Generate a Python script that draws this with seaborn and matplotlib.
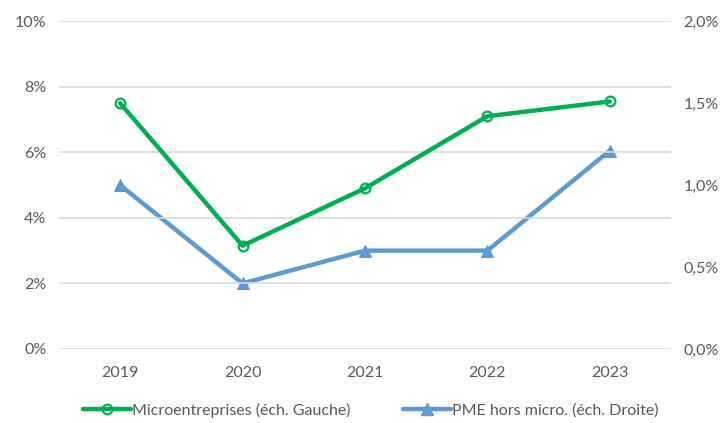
import matplotlib
matplotlib.use("Agg")
import matplotlib.pyplot as plt
import seaborn as sns
import pandas as pd
from matplotlib.lines import Line2D
from matplotlib.ticker import FuncFormatter

years = ["2019", "2020", "2021", "2022", "2023"]
micro = [7.5, 3.15, 4.9, 7.1, 7.55]          # % (left scale)
pme = [1.0, 0.4, 0.6, 0.6, 1.21]             # % (right scale)
left_ticks = [0, 2, 4, 6, 8, 10]
right_ticks = [0.0, 0.5, 1.0, 1.5, 2.0]
label_micro = "Microentreprises (éch. Gauche)"
label_pme = "PME hors micro. (éch. Droite)"

GREEN = "#00B050"
BLUE = "#5B9BD5"
GREY_TXT = "#595959"
GRID = "#D9D9D9"
FS = 11.5

sns.set_theme(style="white")
plt.rcParams["font.family"] = ["Lato", "DejaVu Sans"]

df = pd.DataFrame({"x": range(len(years)), "micro": micro, "pme": pme})

fig = plt.figure(figsize=(7.27, 4.23), dpi=100)
ax = fig.add_axes([0.081, 0.175, 0.842, 0.775])
ax2 = ax.twinx()

for a in (ax, ax2):
    for s in a.spines.values():
        s.set_visible(False)
    a.tick_params(axis="y", length=0, labelsize=FS, colors=GREY_TXT, pad=9)
ax.tick_params(axis="x", length=0, labelsize=FS, colors=GREY_TXT, pad=12)

ax.set_ylim(0, 10)
ax.set_yticks(left_ticks)
ax.yaxis.set_major_formatter(FuncFormatter(lambda v, p: f"{v:.0f}%"))
ax.grid(axis="y", color=GRID, lw=1.2)
ax.set_axisbelow(True)

ax2.set_ylim(0, 2.0)
ax2.set_yticks(right_ticks)
ax2.yaxis.set_major_formatter(FuncFormatter(lambda v, p: f"{v:.1f}%".replace(".", ",")))
ax2.grid(False)

sns.lineplot(data=df, x="x", y="pme", ax=ax2, color=BLUE, lw=3.2,
             marker="^", markersize=9, markeredgecolor=BLUE, zorder=3)
sns.lineplot(data=df, x="x", y="micro", ax=ax, color=GREEN, lw=3.2,
             marker="o", markersize=7, markerfacecolor="none",
             markeredgecolor=GREEN, markeredgewidth=1.6, zorder=4)
ax.set_zorder(ax2.get_zorder() + 1)
ax.patch.set_visible(False)

ax.set_xlim(-0.5, len(years) - 0.5)
ax.set_xticks(range(len(years)))
ax.set_xticklabels(years)
for a in (ax, ax2):
    a.set_xlabel("")
    a.set_ylabel("")

handles = [
    Line2D([], [], color=GREEN, lw=3.2, marker="o", markersize=7,
           markerfacecolor="none", markeredgecolor=GREEN, markeredgewidth=1.6),
    Line2D([], [], color=BLUE, lw=3.2, marker="^", markersize=9,
           markeredgecolor=BLUE),
]
fig.legend(handles, [label_micro, label_pme], loc="center",
           bbox_to_anchor=(0.51, 0.03), ncol=2, frameon=False,
           fontsize=FS, labelcolor=GREY_TXT, handlelength=3.0,
           handletextpad=0.05, columnspacing=3.3)

fig.savefig("out.png", dpi=100)
